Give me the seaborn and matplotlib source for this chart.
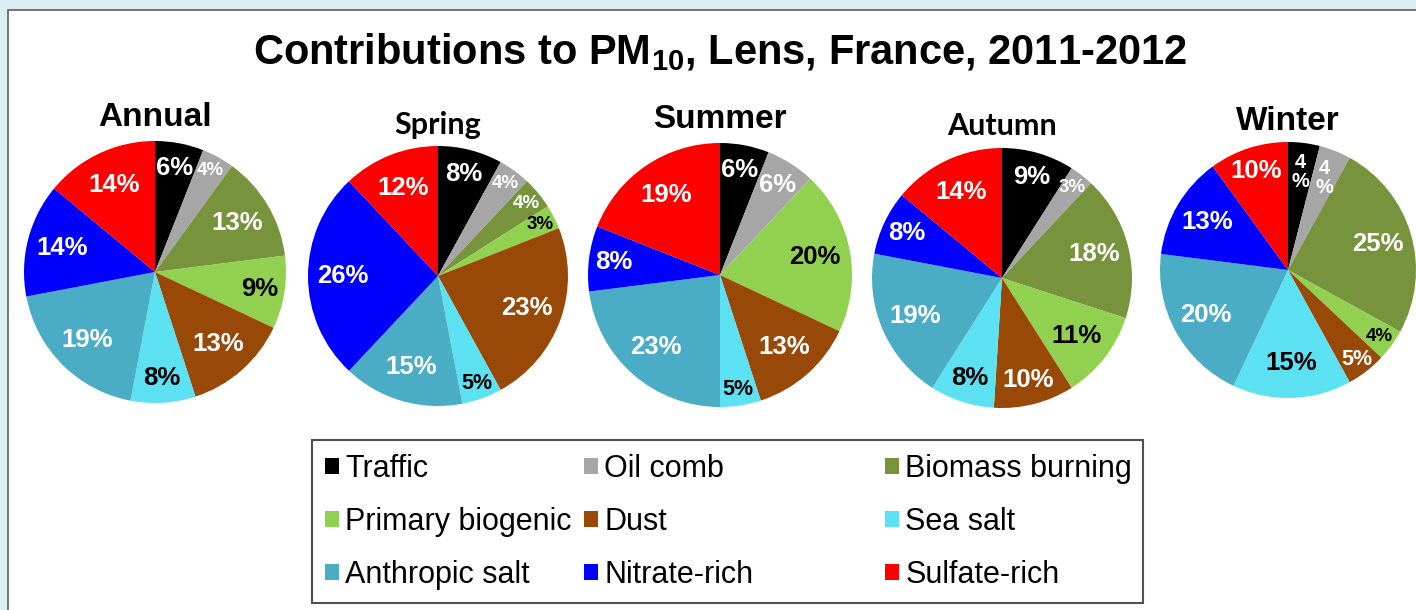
import numpy as np
import matplotlib
matplotlib.use("Agg")
import matplotlib.pyplot as plt
from matplotlib.patches import Rectangle, Patch
import seaborn as sns

# Source categories and colours
sources = ["Traffic", "Oil comb", "Biomass burning", "Primary biogenic", "Dust",
           "Sea salt", "Anthropic salt", "Nitrate-rich", "Sulfate-rich"]
source_colors = ["#000000", "#a6a6a6", "#77933c", "#92d050", "#984807",
                 "#5ce1f2", "#4bacc6", "#0000ff", "#ff0000"]

# Contributions (%) per period, same order as sources
seasons = ["Annual", "Spring", "Summer", "Autumn", "Winter"]
annual = [6, 4, 13, 9, 13, 8, 19, 14, 14]
spring = [8, 4, 4, 3, 23, 5, 15, 26, 12]
summer = [6, 6, 0, 20, 13, 5, 23, 8, 19]
autumn = [9, 3, 18, 11, 10, 8, 19, 8, 14]
winter = [4, 4, 25, 4, 5, 15, 20, 13, 10]
season_values = [annual, spring, summer, autumn, winter]

sns.set_theme(style="white")
plt.rcParams["font.family"] = ["Liberation Sans", "DejaVu Sans"]
plt.rcParams["text.color"] = "black"
plt.rcParams["mathtext.fontset"] = "custom"
plt.rcParams["mathtext.bf"] = "Liberation Sans:bold"
plt.rcParams["mathtext.rm"] = "Liberation Sans"

palette = sns.color_palette(source_colors)
dark_text = {"Primary biogenic", "Sea salt"}
stacked = {("Winter", "Traffic"), ("Winter", "Oil comb")}

W, H = 1416, 610
fig = plt.figure(figsize=(W / 100, H / 100), dpi=100)
fig.patch.set_facecolor("#dbeef4")

# white inner panel
fig.patches.append(Rectangle((8 / W, -0.01), 1.0, (H - 10) / H + 0.01,
                             transform=fig.transFigure, facecolor="white",
                             edgecolor="#606060", linewidth=1.2, zorder=-10))

fig.text(720 / W, 1 - 52 / H,
         r"Contributions to $\mathbf{PM}_{\mathbf{10}}$, Lens, France, 2011-2012",
         ha="center", va="center", fontsize=30, fontweight="bold")

# pie layout in pixels: centre x, centre y (from top), radius, title y, title font
layout = {
    "Annual": (155, 272, 131, 118, ("Liberation Sans", 24)),
    "Spring": (438, 276, 130, 125, ("Lato", 22)),
    "Summer": (720, 275, 132, 120, ("Liberation Sans", 24)),
    "Autumn": (1002, 278, 130, 126, ("Lato", 22)),
    "Winter": (1288, 270, 128, 121, ("Liberation Sans", 24)),
}


def label_style(v):
    if v <= 4:
        return 0.88, 13.5
    if v <= 5:
        return 0.88, 15.5
    if v <= 10:
        return 0.81, 18.5
    return 0.73, 18.5


for season, vals in zip(seasons, season_values):
    cx, cy, r, ty, (tfam, tsize) = layout[season]
    ax = fig.add_axes([(cx - r) / W, (H - cy - r) / H, 2 * r / W, 2 * r / H])
    ax.set_facecolor("none")
    wedges, _ = ax.pie(vals, colors=palette, startangle=90, counterclock=False,
                       radius=1, wedgeprops=dict(linewidth=0))
    ax.set_xlim(-1, 1)
    ax.set_ylim(-1, 1)
    ax.set_aspect("equal")
    ax.axis("off")
    for w, v, name in zip(wedges, vals, sources):
        if v == 0:
            continue
        ang = np.deg2rad((w.theta1 + w.theta2) / 2)
        d, fs = label_style(v)
        txt = f"{v}%"
        if (season, name) in stacked:
            txt = f"{v}\n%"
            d, fs = 0.77, 14.5
        ax.text(d * np.cos(ang), d * np.sin(ang), txt, ha="center", va="center",
                fontsize=fs, fontweight="bold", linespacing=1.0,
                color="black" if name in dark_text else "white")
    fig.text(cx / W, 1 - ty / H, season, ha="center", va="center",
             fontsize=tsize, fontweight="bold", family=[tfam, "DejaVu Sans"])

# legend: three columns, row-wise order as in the figure
fig.patches.append(Rectangle((312 / W, 1 - 603 / H), (1143 - 312) / W, (603 - 440) / H,
                             transform=fig.transFigure, facecolor="white",
                             edgecolor="#505050", linewidth=1.5, zorder=-5))
col_x = [325, 584, 885]
for c in range(3):
    idx = [c, c + 3, c + 6]
    handles = [Patch(facecolor=palette[i], edgecolor="none") for i in idx]
    leg = fig.legend(handles, [sources[i] for i in idx], loc="center left",
                     bbox_to_anchor=(col_x[c] / W, 1 - 522 / H), frameon=False,
                     fontsize=22, handlelength=0.45, handleheight=0.45,
                     handletextpad=0.22, labelspacing=0.75, borderpad=0,
                     borderaxespad=0)
    leg.set_zorder(2)

fig.savefig("out.png", dpi=100, facecolor=fig.get_facecolor())
